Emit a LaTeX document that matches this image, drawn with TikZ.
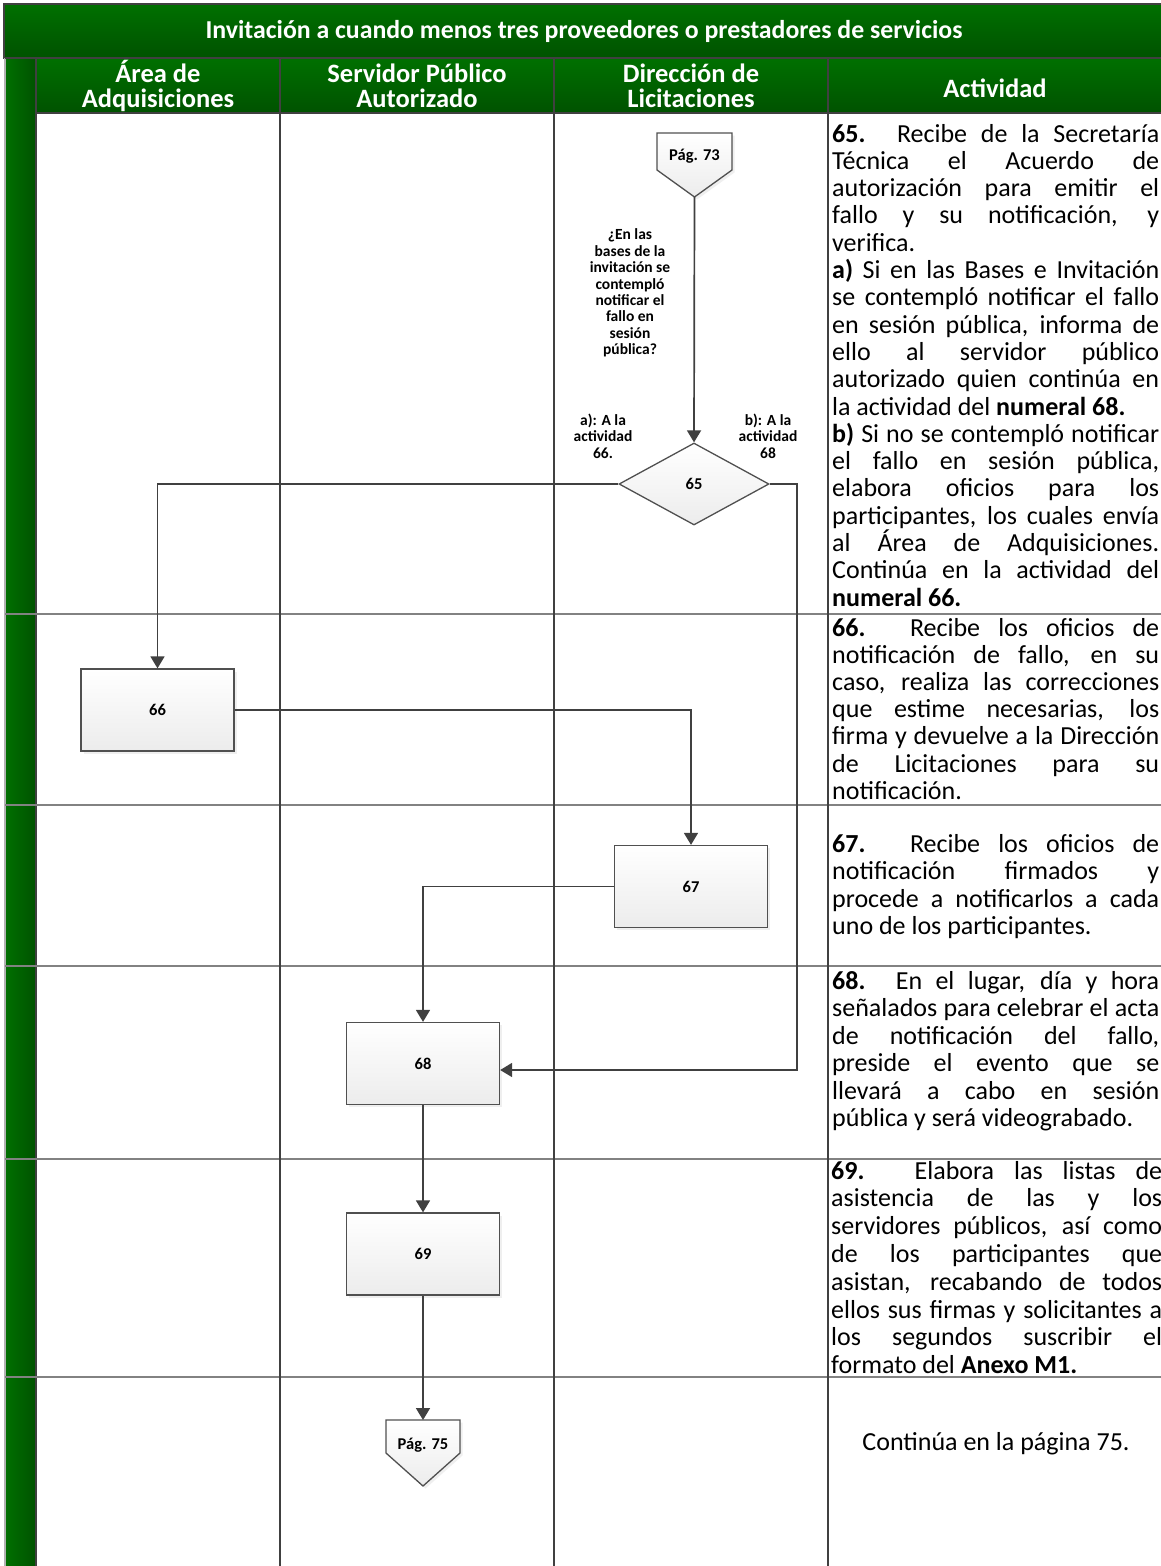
\documentclass[tikz,border=0pt]{standalone}
\usepackage{fontspec}
\setmainfont{Carlito}
\usetikzlibrary{arrows.meta,shapes.geometric,shadows}
\definecolor{gA}{RGB}{0,112,0}
\definecolor{gB}{RGB}{0,82,0}
\definecolor{ln}{RGB}{64,64,64}
\definecolor{bd}{RGB}{80,80,80}
\definecolor{rowln}{RGB}{130,130,130}
\definecolor{boxfill}{RGB}{236,236,236}
\newcommand\tfont{\fontsize{26}{27.5}\selectfont}
\newcommand\JL[2][327pt]{\hbox to #1{#2}}
\newcommand\NL[1]{\hbox{#1}}
\hbadness=10000 \hfuzz=200pt \vbadness=10000
\begin{document}
\begin{tikzpicture}[x=1pt,y=-1pt,
  txt/.style={inner sep=0pt, anchor=base west, text=black},
  hdr/.style={text=white, font=\bfseries\fontsize{26.5}{25.5}\selectfont, align=center, inner sep=0pt},
  ttl/.style={text=white, font=\bfseries\fontsize{25.8}{27}\selectfont, inner sep=0pt},
  proc/.style={draw=bd, line width=1.3pt, minimum width=153pt, minimum height=82pt, inner sep=0pt,
    top color=white, bottom color=boxfill, font=\bfseries\fontsize{16.5}{18}\selectfont,
    drop shadow={shadow xshift=2.5pt, shadow yshift=-2.5pt, fill=black!12}},
  dec/.style={diamond, draw=bd, line width=1.3pt, minimum width=150pt, minimum height=82pt, inner sep=0pt,
    top color=white, bottom color=boxfill, font=\bfseries\fontsize{16.5}{18}\selectfont},
  offpg/.style={draw=bd, line width=1.3pt, top color=white, bottom color=boxfill},
  pgtxt/.style={font=\bfseries\fontsize{16.5}{18}\selectfont, inner sep=0pt},
  small/.style={font=\bfseries\fontsize{15.5}{16.4}\selectfont, align=center, inner sep=0pt},
  conn/.style={draw=ln, line width=1.7pt, -{Triangle[length=12pt,width=14pt]}},
  collin/.style={draw=ln, line width=1.8pt},
  rowl/.style={draw=rowln, line width=1.4pt}]
\useasboundingbox (0,0) rectangle (1161,1566);
\fill[white] (0,0) rectangle (1161,1566);
% title band
\shade[top color=gA, bottom color=gB] (4,4) rectangle (1161,58);
\draw[draw=ln, line width=1.2pt] (4,4) rectangle (1163,58);
\node[ttl] (title) at (584,31) {Invitación a cuando menos tres proveedores o prestadores de servicios};
% header row
\shade[top color=gA, bottom color=gB] (36,58) rectangle (1161,113);
% left strip
\shade[left color=gA, right color=gB] (5,58) rectangle (36,1566);
\draw[draw=black!30, line width=1.2pt] (5,58) -- (5,1566);
\draw[draw=ln, line width=1.2pt] (36,58) -- (36,1566);
\draw[draw=ln, line width=1.2pt] (5,58) -- (1161,58);
% header separators
\foreach \xx in {280,554,828} \draw[draw=ln, line width=1.2pt] (\xx,58) -- (\xx,113);
\draw[draw=ln, line width=1.2pt] (36,113) -- (1161,113);
\node[hdr] (h1) at (158,86) {Área de\\Adquisiciones};
\node[hdr] (h2) at (417,86) {Servidor Público\\Autorizado};
\node[hdr] (h3) at (691,86) {Dirección de\\Licitaciones};
\node[hdr] (h4) at (995,88) {Actividad};
% row lines
\foreach \yy in {614,805,966,1159,1377} \draw[rowl] (5,\yy) -- (1161,\yy);
% column lines
\foreach \xx in {280,554,828} \draw[collin] (\xx,113) -- (\xx,1566);
% activity texts
\node[txt] (t65) at (832,142) {\vtop{\tfont\baselineskip=27.3pt\lineskiplimit=-100pt
 \JL{\textbf{65.} Recibe de la Secretaría}
 \JL{Técnica el Acuerdo de}
 \JL{autorización para emitir el}
 \JL{fallo y su notificación, y}
 \NL{verifica.}
 \JL{\textbf{a)} Si en las Bases e Invitación}
 \JL{se contempló notificar el fallo}
 \JL{en sesión pública, informa de}
 \JL{ello al servidor público}
 \JL{autorizado quien continúa en}
 \NL{la actividad del \textbf{numeral 68.}}
 \JL{\textbf{b)} Si no se contempló notificar}
 \JL{el fallo en sesión pública,}
 \JL{elabora oficios para los}
 \JL{participantes, los cuales envía}
 \JL{al Área de Adquisiciones.}
 \JL{Continúa en la actividad del}
 \NL{\textbf{numeral 66.}}}};
\node[txt] (t66) at (832,636) {\vtop{\tfont\baselineskip=27.2pt\lineskiplimit=-100pt
 \JL{\textbf{66.} Recibe los oficios de}
 \JL{notificación de fallo, en su}
 \JL{caso, realiza las correcciones}
 \JL{que estime necesarias, los}
 \JL{firma y devuelve a la Dirección}
 \JL{de Licitaciones para su}
 \NL{notificación.}}};
\node[txt] (t67) at (832,852) {\vtop{\tfont\lineskiplimit=-100pt
 \JL{\textbf{67.} Recibe los oficios de}
 \JL{notificación firmados y}
 \JL{procede a notificarlos a cada}
 \NL{uno de los participantes.}}};
\node[txt] (t68) at (832,989) {\vtop{\tfont\lineskiplimit=-100pt
 \JL{\textbf{68.} En el lugar, día y hora}
 \JL{señalados para celebrar el acta}
 \JL{de notificación del fallo,}
 \JL{preside el evento que se}
 \JL{llevará a cabo en sesión}
 \NL{pública y será videograbado.}}};
\node[txt] (t69) at (831,1179) {\vtop{\tfont\baselineskip=27.8pt\lineskiplimit=-100pt
 \JL[331pt]{\textbf{69.} Elabora las listas de}
 \JL[331pt]{asistencia de las y los}
 \JL[331pt]{servidores públicos, así como}
 \JL[331pt]{de los participantes que}
 \JL[331pt]{asistan, recabando de todos}
 \JL[331pt]{ellos sus firmas y solicitantes a}
 \JL[331pt]{los segundos suscribir el}
 \NL{formato del \textbf{Anexo M1.}}}};
\node[inner sep=0pt, font=\tfont, anchor=base] (t70) at (996,1450) {Continúa en la página 75.};
% off-page connector top
\path[offpg, drop shadow={shadow xshift=2.5pt, shadow yshift=-2.5pt, fill=black!12}] (657,133) -- (732,133) -- (732,170) -- (694.5,197) -- (657,170) -- cycle;
\node[pgtxt] (p73) at (694.5,156) {Pág. 73};
\coordinate (p73tip) at (694.5,197);
% question and labels
\node[small] (q) at (630,293) {¿En las\\bases de la\\invitación se\\contempló\\notificar el\\fallo en\\sesión\\pública?};
\node[small] (la) at (603,436) {a): A la\\actividad\\66.};
\node[small] (lb) at (768,436) {b): A la\\actividad\\68};
% decision and processes
\node[dec] (d65) at (694,484) {65};
\node[proc] (b66) at (157.5,710) {66};
\node[proc] (b67) at (691,886.5) {67};
\node[proc] (b68) at (423,1063.5) {68};
\node[proc] (b69) at (423,1254) {69};
% off-page connector bottom
\path[offpg, drop shadow={shadow xshift=2.5pt, shadow yshift=-2.5pt, fill=black!12}] (386,1420) -- (460,1420) -- (460,1453) -- (423,1486) -- (386,1453) -- cycle;
\node[pgtxt] (p75) at (423,1445) {Pág. 75};
\coordinate (p75top) at (423,1420);
\coordinate (c68) at (797,1070);
% connectors
\draw[conn] (p73tip) -- (d65.north);
\draw[conn] (d65.west) -| (b66.north);
\draw[conn] (d65.east) -| (c68) -- (c68 -| b68.east);
\draw[conn] (b66.east) -| (b67.north);
\draw[conn] (b67.west) -| (b68.north);
\draw[conn] (b68.south) -- (b69.north);
\draw[conn] (b69.south) -- (p75top);
\end{tikzpicture}
\end{document}
